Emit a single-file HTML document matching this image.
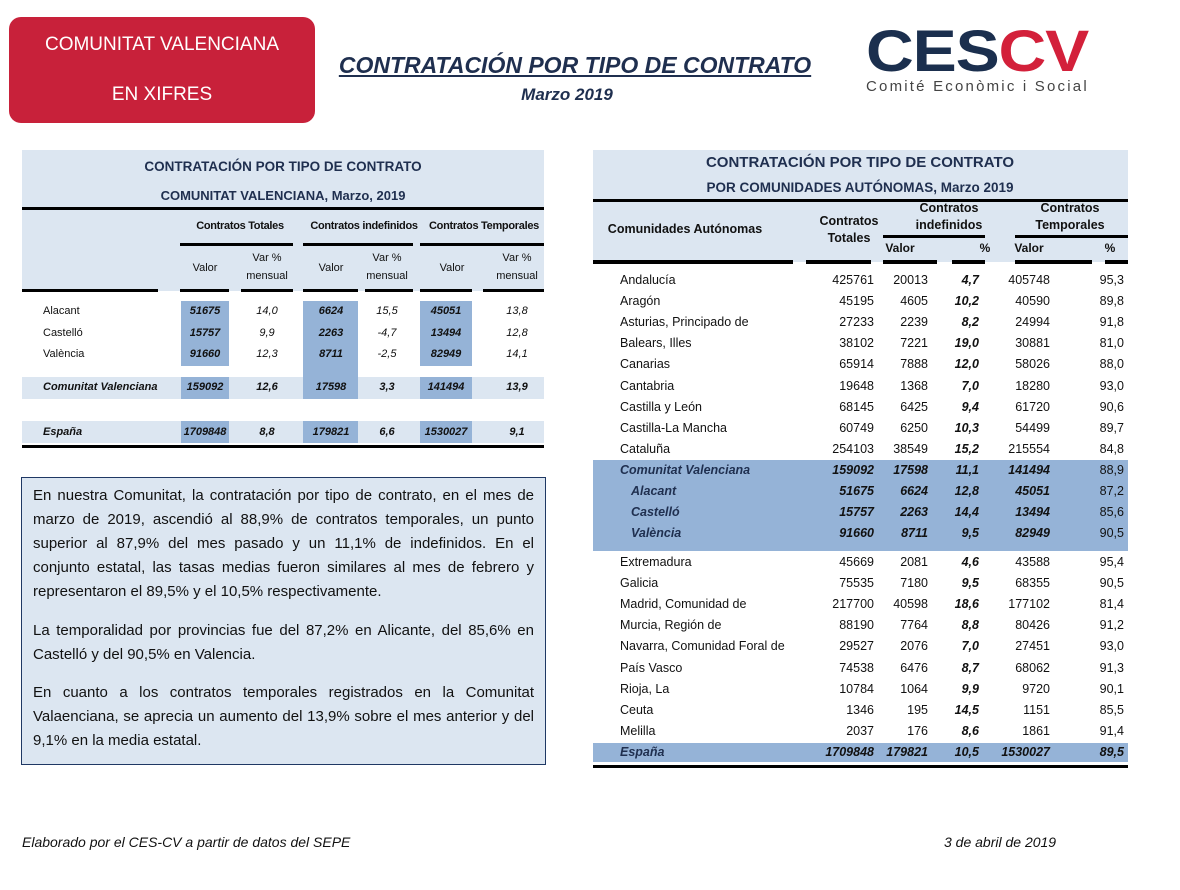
<!DOCTYPE html>
<html><head><meta charset="utf-8">
<style>
body{margin:0;width:1180px;height:890px;background:#fff;position:relative;font-family:"Liberation Sans",sans-serif;color:#111;overflow:hidden}
.a{position:absolute;white-space:nowrap}
.bg{position:absolute;background:#dce6f1}
.bx{position:absolute;background:#95b3d7}
.ln{position:absolute;background:#000}
.c{transform:translateX(-50%);text-align:center}
.r{transform:translateX(-100%)}
.lt{font-size:11px}
.rt{font-size:12.5px}
</style></head><body>
<div class="a" style="left:9px;top:17px;width:306px;height:106px;background:#c8213a;border-radius:12px;color:#fff;font-size:19px;text-align:center">
<div style="position:absolute;top:17px;width:100%">COMUNITAT VALENCIANA</div>
<div style="position:absolute;top:67px;width:100%">EN XIFRES</div></div>
<div class="a c" style="left:575px;top:52px;font-size:23px;font-weight:bold;font-style:italic;text-decoration:underline;color:#1f2f4f">CONTRATACIÓN POR TIPO DE CONTRATO</div>
<div class="a c" style="left:567px;top:85px;font-size:17px;font-weight:bold;font-style:italic;color:#1f2f4f">Marzo 2019</div>
<div class="a" style="left:866px;top:22px">
<div style="font-size:58px;font-weight:900;letter-spacing:-1px;line-height:60px;transform:scaleX(1.14);transform-origin:left"><span style="color:#1b2f4e">CES</span><span style="color:#d3203a">CV</span></div>
<div style="font-size:15px;color:#444;letter-spacing:2.2px;margin-top:-4px">Comité Econòmic i Social</div></div>

<div id="lt">
<div class="bg" style="left:22px;top:150px;width:522px;height:141px"></div>
<div class="bg" style="left:22px;top:377px;width:522px;height:22px"></div>
<div class="bg" style="left:22px;top:421px;width:522px;height:22px"></div>
<div class="ln" style="left:22px;top:207px;width:522px;height:3px"></div>
<div class="ln" style="left:22px;top:445px;width:522px;height:3px"></div>
<div class="a c" style="left:283px;top:159px;font-size:13.5px;font-weight:bold;color:#1f2f4f">CONTRATACIÓN POR TIPO DE CONTRATO</div>
<div class="a c" style="left:283px;top:188px;font-size:13px;font-weight:bold;color:#1f2f4f">COMUNITAT VALENCIANA, Marzo, 2019</div>
</div>

<div id="rt">
<div class="bg" style="left:593px;top:150px;width:535px;height:112px"></div>
<div class="bx" style="left:593px;top:460px;width:535px;height:91px"></div>
<div class="bx" style="left:593px;top:743px;width:535px;height:19px"></div>
<div class="ln" style="left:593px;top:199px;width:535px;height:3px"></div>
<div class="ln" style="left:593px;top:765px;width:535px;height:3px"></div>
<div class="a c" style="left:860px;top:154px;font-size:15px;font-weight:bold;color:#1f2f4f">CONTRATACIÓN POR TIPO DE CONTRATO</div>
<div class="a c" style="left:860px;top:180px;font-size:13.5px;font-weight:bold;color:#1f2f4f">POR COMUNIDADES AUTÓNOMAS, Marzo 2019</div>
</div>

<div class="a" style="left:21px;top:477px;width:523px;height:286px;background:#dce6f1;border:1px solid #1f3864;white-space:normal;font-size:15px;line-height:24px;color:#111">
<p style="margin:6px 11px 0 11px;text-align:justify">En nuestra Comunitat, la contratación por tipo de contrato, en el mes de marzo de 2019, ascendió al 88,9% de contratos temporales, un punto superior al 87,9% del mes pasado y un 11,1% de indefinidos. En el conjunto estatal, las tasas medias fueron similares al mes de febrero y representaron el 89,5% y el 10,5% respectivamente.</p>
<p style="margin:15px 11px 0 11px;text-align:justify">La temporalidad por provincias fue del 87,2% en Alicante, del 85,6% en Castelló y del 90,5% en Valencia.</p>
<p style="margin:14px 11px 0 11px;text-align:justify">En cuanto a los contratos temporales registrados en la Comunitat Valaenciana, se aprecia un aumento del 13,9% sobre el mes anterior y del 9,1% en la media estatal.</p>
</div>
<div class="a" style="left:22px;top:834px;font-size:14px;font-style:italic">Elaborado por el CES-CV a partir de datos del SEPE</div>
<div class="a" style="left:944px;top:834px;font-size:14px;font-style:italic">3 de abril de 2019</div>

<script>
const ltNames=["Alacant","Castelló","València","Comunitat Valenciana","España"];
const ltTot=["51675","15757","91660","159092","1709848"];
const ltTotVar=["14,0","9,9","12,3","12,6","8,8"];
const ltInd=["6624","2263","8711","17598","179821"];
const ltIndVar=["15,5","-4,7","-2,5","3,3","6,6"];
const ltTem=["45051","13494","82949","141494","1530027"];
const ltTemVar=["13,8","12,8","14,1","13,9","9,1"];

const rtNames=["Andalucía","Aragón","Asturias, Principado de","Balears, Illes","Canarias","Cantabria","Castilla y León","Castilla-La Mancha","Cataluña","Comunitat Valenciana","Alacant","Castelló","València","Extremadura","Galicia","Madrid, Comunidad de","Murcia, Región de","Navarra, Comunidad Foral de","País Vasco","Rioja, La","Ceuta","Melilla","España"];
const rtTot=["425761","45195","27233","38102","65914","19648","68145","60749","254103","159092","51675","15757","91660","45669","75535","217700","88190","29527","74538","10784","1346","2037","1709848"];
const rtInd=["20013","4605","2239","7221","7888","1368","6425","6250","38549","17598","6624","2263","8711","2081","7180","40598","7764","2076","6476","1064","195","176","179821"];
const rtIndPct=["4,7","10,2","8,2","19,0","12,0","7,0","9,4","10,3","15,2","11,1","12,8","14,4","9,5","4,6","9,5","18,6","8,8","7,0","8,7","9,9","14,5","8,6","10,5"];
const rtTem=["405748","40590","24994","30881","58026","18280","61720","54499","215554","141494","45051","13494","82949","43588","68355","177102","80426","27451","68062","9720","1151","1861","1530027"];
const rtTemPct=["95,3","89,8","91,8","81,0","88,0","93,0","90,6","89,7","84,8","88,9","87,2","85,6","90,5","95,4","90,5","81,4","91,2","93,0","91,3","90,1","85,5","91,4","89,5"];

function txt(parent,x,y,s,cls,style){
  const d=document.createElement('div');
  d.className='a '+cls;d.style.left=x+'px';d.style.top=y+'px';
  if(style)d.style.cssText+=style;d.textContent=s;parent.appendChild(d);return d;
}
function blk(parent,cls,x,y,w,h){
  const d=document.createElement('div');d.className=cls;
  d.style.cssText+=`left:${x}px;top:${y}px;width:${w}px;height:${h}px`;parent.appendChild(d);return d;
}
const L=document.getElementById('lt');
[[181,301,48,65],[181,377,48,22],[181,421,48,22],[303,301,55,98],[303,421,55,22],[420,301,52,65],[420,377,52,22],[420,421,52,22]].forEach(b=>{
  const e=blk(L,'bx',b[0],b[1],b[2],b[3]);
  
  
});
[[180,243,113],[303,243,110],[420,243,124]].forEach(s=>blk(L,'ln',s[0],s[1],s[2],3));
[[22,136],[180,49],[241,52],[303,55],[365,48],[420,52],[483,61]].forEach(s=>blk(L,'ln',s[0],289,s[1],3));
const lh=[["Contratos Totales",240],["Contratos indefinidos",364],["Contratos Temporales",484]];
lh.forEach(h=>{const e=txt(L,h[1],220,h[0],'c lt','font-weight:bold;letter-spacing:-0.3px');
  
  });
[205,331,452].forEach(x=>{const e=txt(L,x,262,'Valor','c lt');
  
  });
[267,387,517].forEach(x=>{const e=txt(L,x,252,'Var %','c lt');
  
  
  const f=txt(L,x,270,'mensual','c lt');
  
  });
const lY=[305,327,348,381,426];
ltNames.forEach((n,i)=>{
  const bold=i>=3;const y=lY[i];
  const e=txt(L,43,y,n,'lt',bold?'font-weight:bold;font-style:italic':'');
  
  
  const vals=[[ltTot[i],205,1],[ltTotVar[i],267,0],[ltInd[i],331,1],[ltIndVar[i],387,0],[ltTem[i],446,1],[ltTemVar[i],517,0]];
  vals.forEach(v=>{
    const st='font-style:italic;'+((v[2]||bold)?'font-weight:bold':'');
    const c=txt(L,v[1],y,v[0],'c lt',st);
    
    
  });
});
const R=document.getElementById('rt');
[[883,235,102],[1015,235,113]].forEach(s=>blk(R,'ln',s[0],s[1],s[2],3));
[[593,200],[806,65],[883,54],[952,33],[1015,77],[1105,23]].forEach(s=>blk(R,'ln',s[0],260,s[1],4));
const rh=[["Comunidades Autónomas",685,222],["Contratos",849,214],["Totales",849,231],["Contratos",949,201],["indefinidos",949,218],["Contratos",1070,201],["Temporales",1070,218]];
rh.forEach(h=>{const e=txt(R,h[1],h[2],h[0],'c rt','font-weight:bold');
  
  });
[[900,'Valor'],[985,'%'],[1029,'Valor'],[1110,'%']].forEach(h=>{
  const e=txt(R,h[0],241,h[1],'c rt','font-weight:bold;font-size:12px');
  
  });
rtNames.forEach((n,i)=>{
  let y;
  if(i<=8)y=273+i*21.1;else if(i<=12)y=463+(i-9)*21;else y=555+(i-13)*21.1;
  if(i==22)y=745;
  const cv=i>=9&&i<=12, es=i==22;
  const strong=cv||es;
  const bi='font-weight:bold;font-style:italic;';
  const e=txt(R,(i>=10&&i<=12)?631:620,y,n,'rt',strong?bi+'color:#1f2f4f':'');
  
  
  const vals=[[rtTot[i],874,strong],[rtInd[i],928,strong],[rtIndPct[i],979,true],[rtTem[i],1050,strong],[rtTemPct[i],1124,es]];
  vals.forEach(v=>{
    const c=txt(R,v[1],y,v[0],'r rt',v[2]?bi:'');
    
    
  });
});
</script>
</body></html>
